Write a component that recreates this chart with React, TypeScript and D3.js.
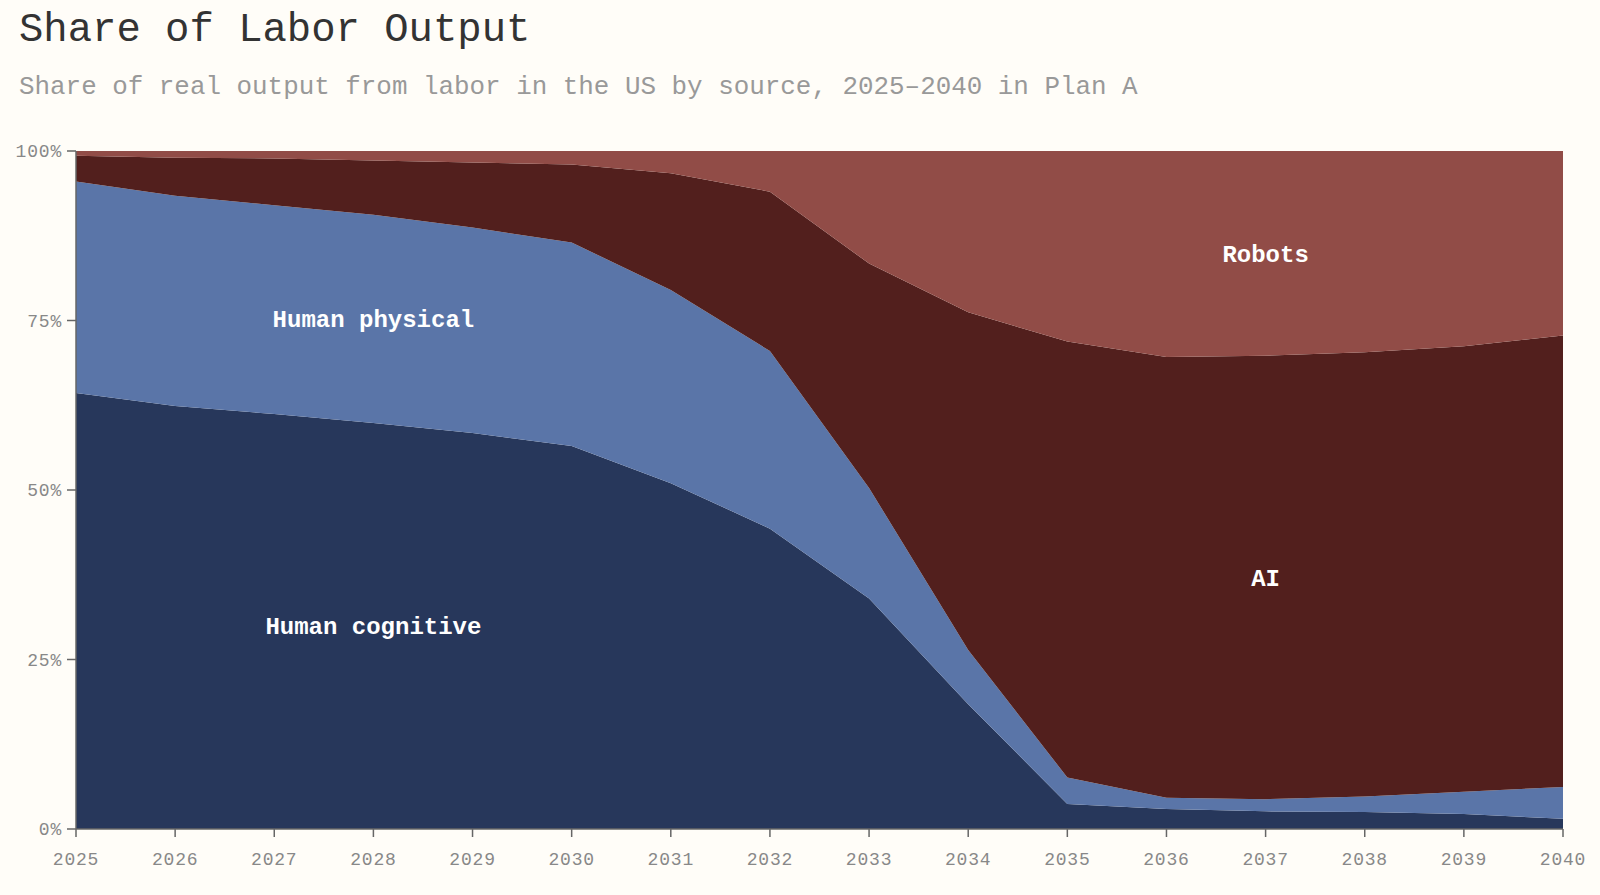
import React from 'react';
import * as d3 from 'd3';

// chart data (percent of labor output)
const years = [2025, 2026, 2027, 2028, 2029, 2030, 2031, 2032, 2033, 2034, 2035, 2036, 2037, 2038, 2039, 2040];
const humanCognitive = [64.3, 62.4, 61.2, 59.9, 58.4, 56.5, 51.0, 44.3, 34.0, 18.4, 3.7, 2.95, 2.6, 2.5, 2.2, 1.5];
const humanPhysical = [31.2, 31.0, 30.8, 30.7, 30.3, 30.0, 28.5, 26.2, 16.3, 8.0, 3.9, 1.65, 1.8, 2.3, 3.3, 4.7];
const ai = [3.8, 5.6, 6.9, 8.0, 9.6, 11.5, 17.2, 23.5, 33.1, 49.8, 64.3, 65.0, 65.4, 65.5, 65.7, 66.6];
const robots = [0.7, 1.0, 1.1, 1.4, 1.7, 2.0, 3.3, 6.0, 16.6, 23.8, 28.1, 30.4, 30.2, 29.7, 28.8, 27.2];
const yTicks = [0, 25, 50, 75, 100];

const seriesKeys = ['Human cognitive', 'Human physical', 'AI', 'Robots'];
const seriesColors = ['#27375b', '#5a75a8', '#521f1d', '#914c47'];
// index of the year where each band's label sits
const labelAt = [3, 3, 12, 12];

const W = 1600;
const H = 895;
const margin = { top: 151, right: 37, bottom: 66, left: 76 };
const mono = '"Courier New", "Liberation Mono", monospace';

export default function App() {
  const table = years.map((year, i) => ({
    year,
    'Human cognitive': humanCognitive[i],
    'Human physical': humanPhysical[i],
    AI: ai[i],
    Robots: robots[i],
  }));

  const stack = d3.stack<any>().keys(seriesKeys);
  const layers = stack(table);

  const x = d3.scaleLinear()
    .domain(d3.extent(years) as [number, number])
    .range([margin.left, W - margin.right]);
  const y = d3.scaleLinear()
    .domain([0, 100])
    .range([H - margin.bottom, margin.top]);

  const area = d3.area<any>()
    .x(d => x(d.data.year))
    .y0(d => y(d[0]))
    .y1(d => y(d[1]));

  const x0 = margin.left;
  const y0 = H - margin.bottom;

  return (
    <svg width={W} height={H} style={{ position: 'absolute', left: 0, top: 0, display: 'block' }}>
      <rect width={W} height={H} fill="#fffdf8" />

      <text x={19} y={41} fontFamily={mono} fontSize={40.6} fill="#333">Share of Labor Output</text>
      <text x={19} y={94} fontFamily={mono} fontSize={25.9} fill="#999">
        Share of real output from labor in the US by source, 2025–2040 in Plan A
      </text>

      {layers.map((layer, i) => (
        <path key={layer.key} d={area(layer) || ''} fill={seriesColors[i]} />
      ))}

      {/* band labels */}
      {layers.map((layer, i) => {
        const p = layer[labelAt[i]];
        return (
          <text
            key={'lbl' + layer.key}
            x={x(p.data.year)}
            y={y((p[0] + p[1]) / 2)}
            dy="0.35em"
            textAnchor="middle"
            fontFamily={mono}
            fontWeight="bold"
            fontSize={24}
            fill="#fff"
          >
            {layer.key}
          </text>
        );
      })}

      {/* y axis */}
      <line x1={x0} x2={x0} y1={margin.top} y2={y0} stroke="#666" strokeWidth={1.5} />
      {yTicks.map(t => (
        <g key={'y' + t} transform={`translate(0,${y(t)})`}>
          <line x1={x0 - 9} x2={x0} stroke="#666" strokeWidth={1.5} />
          <text x={x0 - 14} dy="0.35em" textAnchor="end" fontFamily={mono} fontSize={18} letterSpacing={0.8} fill="#888">
            {t + '%'}
          </text>
        </g>
      ))}

      {/* x axis */}
      <line x1={x0} x2={W - margin.right} y1={y0} y2={y0} stroke="#666" strokeWidth={1.5} />
      {years.map(yr => (
        <g key={'x' + yr} transform={`translate(${x(yr)},0)`}>
          <line y1={y0} y2={y0 + 8} stroke="#666" strokeWidth={1.5} />
          <text y={y0 + 36} textAnchor="middle" fontFamily={mono} fontSize={18} letterSpacing={0.8} fill="#888">
            {yr}
          </text>
        </g>
      ))}
    </svg>
  );
}
